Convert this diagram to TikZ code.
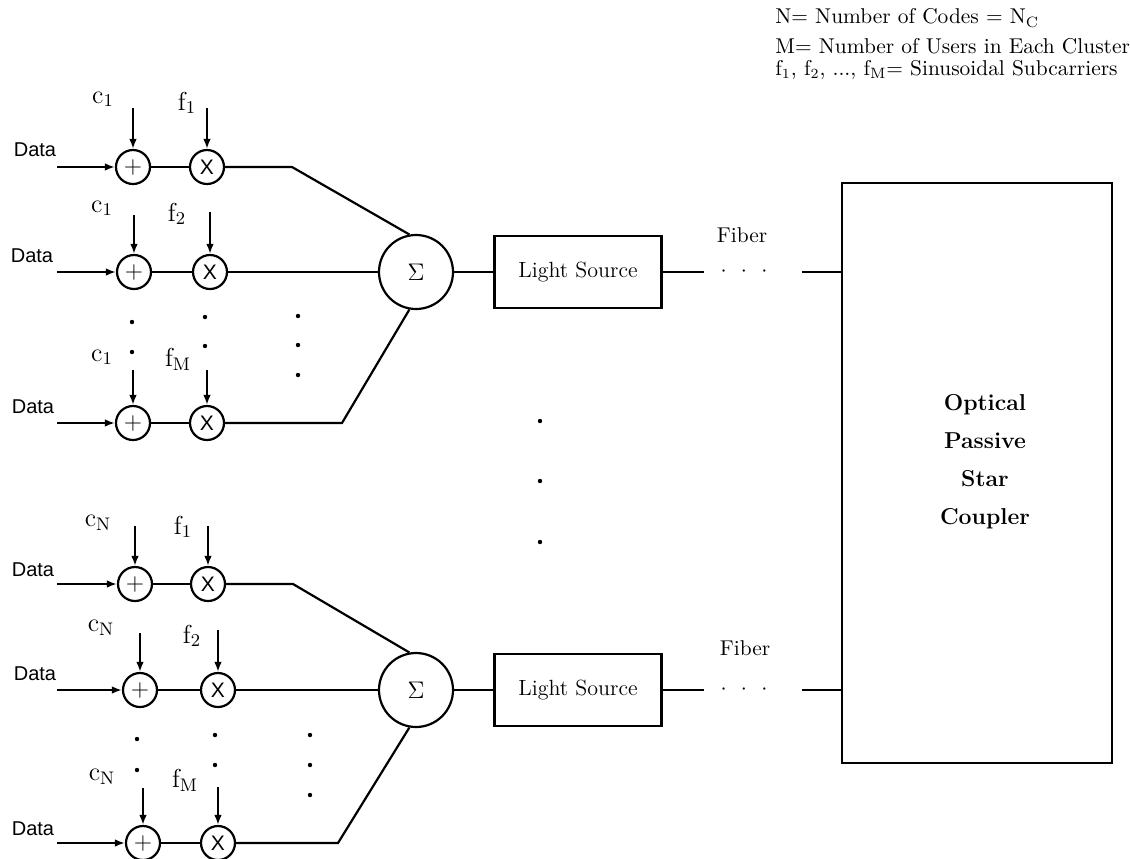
\documentclass[tikz,border=0pt]{standalone}
\usepackage{fontspec}
\usepackage{amsmath}
\usepackage{tikz}
\usetikzlibrary{arrows.meta}
\newfontfamily\datafont{Liberation Sans}
\tikzset{
  mixer/.style={draw, circle, line width=1.1pt, minimum size=17pt, inner sep=0pt},
  summer/.style={draw, circle, line width=1.1pt, minimum size=37pt, inner sep=0pt,
    font=\fontsize{12}{14}\selectfont},
  source/.style={draw, line width=1.1pt, minimum width=83.5pt, minimum height=36pt,
    font=\fontsize{11}{13}\selectfont},
  lbl/.style={font=\fontsize{10.7}{13}\selectfont, inner sep=1pt},
  inlbl/.style={font=\fontsize{13}{15}\selectfont, inner sep=1pt},
  datalbl/.style={font=\datafont\fontsize{10}{12}\selectfont, inner sep=1pt},
  wire/.style={line width=1.1pt},
  feed/.style={line width=1.1pt, -{Latex[length=5pt,width=3.8pt]}},
}
\newcommand{\plussign}{\fontsize{13}{13}\selectfont$+$}
\newcommand{\timessign}{\datafont\fontsize{10.5}{12}\selectfont X}

\begin{document}
\begin{tikzpicture}[x=0.5pt, y=-0.5pt]
\useasboundingbox (0,0) rectangle (1130,858);

% legend
\node[lbl, anchor=west] (leg1) at (773,18) {N= Number of Codes = N$_\mathrm{C}$};
\node[lbl, anchor=west] (leg2) at (773,46) {M= Number of Users in Each Cluster};
\node[lbl, anchor=west] (leg3) at (773,70) {f$_1$, f$_2$, ..., f$_\mathrm{M}$= Sinusoidal Subcarriers};

% upper cluster
\node[summer] (sumA) at (416,272) {$\Sigma$};
\node[source] (srcA) at (578,272) {Light Source};

\node[datalbl] (dA1) at (35,150) {Data};
\coordinate (inA1) at (57,167);
\node[mixer] (pA1) at (133,167) {\plussign};
\node[mixer] (xA1) at (207,167) {\timessign};
\node[inlbl] (cA1) at (103,99) {c$_1$};
\node[inlbl] (fA1) at (187,103) {f$_1$};
\coordinate (ctA1) at (133,108);
\coordinate (ftA1) at (207,108);

\node[datalbl] (dA2) at (32,256) {Data};
\coordinate (inA2) at (57,272);
\node[mixer] (pA2) at (134,272) {\plussign};
\node[mixer] (xA2) at (210,272) {\timessign};
\node[inlbl] (cA2) at (102,208) {c$_1$};
\node[inlbl] (fA2) at (177,214) {f$_2$};
\coordinate (ctA2) at (134,215);
\coordinate (ftA2) at (210,212);

\node[datalbl] (dA3) at (33,407) {Data};
\coordinate (inA3) at (57,423);
\node[mixer] (pA3) at (133,423) {\plussign};
\node[mixer] (xA3) at (207,423) {\timessign};
\node[inlbl] (cA3) at (102,357) {c$_1$};
\node[inlbl] (fA3) at (178,359) {f$_\mathrm{M}$};
\coordinate (ctA3) at (133,370);
\coordinate (ftA3) at (207,370);

\draw[feed] (inA1) -- (pA1);
\draw[feed] (inA2) -- (pA2);
\draw[feed] (inA3) -- (pA3);
\draw[feed] (ctA1) -- (pA1);
\draw[feed] (ctA2) -- (pA2);
\draw[feed] (ctA3) -- (pA3);
\draw[feed] (ftA1) -- (xA1);
\draw[feed] (ftA2) -- (xA2);
\draw[feed] (ftA3) -- (xA3);
\draw[wire] (pA1) -- (xA1);
\draw[wire] (pA2) -- (xA2);
\draw[wire] (pA3) -- (xA3);
\draw[wire] (xA1) -- ++(85,0) -- (sumA.100);
\draw[wire] (xA2) -- (sumA);
\draw[wire] (xA3) -- ++(135,0) -- (sumA.260);
\draw[wire] (sumA) -- (srcA);

\fill (132,322) circle (1.1pt) (132,352) circle (1.1pt);
\fill (205,317) circle (1.1pt) (205,346) circle (1.1pt);
\fill (298,316) circle (1.1pt) (298,345) circle (1.1pt) (298,375) circle (1.1pt);

% lower cluster
\node[summer] (sumB) at (416,690) {$\Sigma$};
\node[source] (srcB) at (578,690) {Light Source};

\node[datalbl] (dB1) at (33,570) {Data};
\coordinate (inB1) at (57,584);
\node[mixer] (pB1) at (135,584) {\plussign};
\node[mixer] (xB1) at (208,584) {\timessign};
\node[inlbl] (cB1) at (98,523) {c$_\mathrm{N}$};
\node[inlbl] (fB1) at (183,527) {f$_1$};
\coordinate (ctB1) at (135,526);
\coordinate (ftB1) at (208,526);

\node[datalbl] (dB2) at (35,674) {Data};
\coordinate (inB2) at (57,690);
\node[mixer] (pB2) at (140,690) {\plussign};
\node[mixer] (xB2) at (218,690) {\timessign};
\node[inlbl] (cB2) at (101,628) {c$_\mathrm{N}$};
\node[inlbl] (fB2) at (192,636) {f$_2$};
\coordinate (ctB2) at (140,633);
\coordinate (ftB2) at (218,630);

\node[datalbl] (dB3) at (33,829) {Data};
\coordinate (inB3) at (57,843);
\node[mixer] (pB3) at (143,843) {\plussign};
\node[mixer] (xB3) at (218,843) {\timessign};
\node[inlbl] (cB3) at (102,777) {c$_\mathrm{N}$};
\node[inlbl] (fB3) at (185,780) {f$_\mathrm{M}$};
\coordinate (ctB3) at (143,788);
\coordinate (ftB3) at (218,787);

\draw[feed] (inB1) -- (pB1);
\draw[feed] (inB2) -- (pB2);
\draw[feed] (inB3) -- (pB3);
\draw[feed] (ctB1) -- (pB1);
\draw[feed] (ctB2) -- (pB2);
\draw[feed] (ctB3) -- (pB3);
\draw[feed] (ftB1) -- (xB1);
\draw[feed] (ftB2) -- (xB2);
\draw[feed] (ftB3) -- (xB3);
\draw[wire] (pB1) -- (xB1);
\draw[wire] (pB2) -- (xB2);
\draw[wire] (pB3) -- (xB3);
\draw[wire] (xB1) -- ++(85,0) -- (sumB.100);
\draw[wire] (xB2) -- (sumB);
\draw[wire] (xB3) -- ++(120,0) -- (sumB.260);
\draw[wire] (sumB) -- (srcB);

\fill (137,739) circle (1.1pt) (137,770) circle (1.1pt);
\fill (215,735) circle (1.1pt) (215,765) circle (1.1pt);
\fill (310,735) circle (1.1pt) (310,765) circle (1.1pt) (310,795) circle (1.1pt);

% between the clusters
\fill (540,421) circle (1.1pt) (540,481) circle (1.1pt) (540,542) circle (1.1pt);

% fibres and coupler
\node[draw, line width=1.1pt, minimum width=135pt, minimum height=290pt] (cplr) at (977,473) {};
\node[font=\bfseries\fontsize{11.5}{19}\selectfont, align=center] (cplrtxt) at (985,462)
  {Optical\\Passive\\Star\\Coupler};

\node[lbl] (fibA) at (742,235) {Fiber};
\node[lbl, inner sep=0pt] (dotsA) at (744,272) {$\cdot$\ \ $\cdot$\ \ $\cdot$};
\draw[wire] (srcA) -- ([xshift=-8pt]dotsA.west);
\draw[wire] ([xshift=17pt]dotsA.east) -- (dotsA -| cplr.west);

\node[lbl] (fibB) at (745,648) {Fiber};
\node[lbl, inner sep=0pt] (dotsB) at (744,690) {$\cdot$\ \ $\cdot$\ \ $\cdot$};
\draw[wire] (srcB) -- ([xshift=-8pt]dotsB.west);
\draw[wire] ([xshift=17pt]dotsB.east) -- (dotsB -| cplr.west);
\end{tikzpicture}
\end{document}
